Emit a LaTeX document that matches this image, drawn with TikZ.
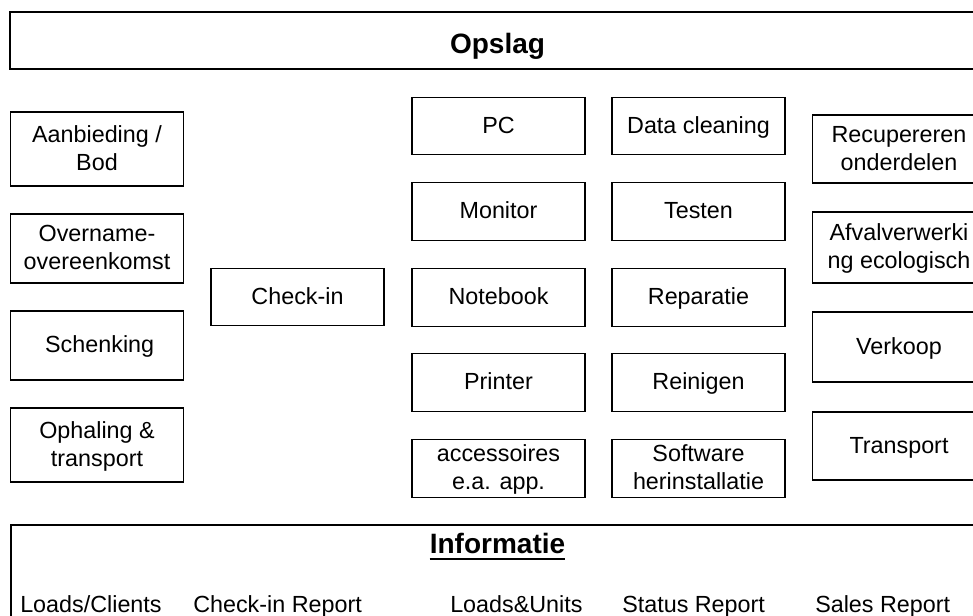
\documentclass[tikz,border=0pt]{standalone}
\usepackage{fontspec}
\setmainfont{Liberation Sans}
\begin{document}
\begin{tikzpicture}[x=0.75pt,y=-0.75pt,
  box/.style={draw=black, line width=0.85pt, inner sep=0pt, align=center,
    font=\fontsize{17.5pt}{21pt}\selectfont, minimum width=129.75pt,
    text height=13.5pt, text depth=3pt},
  twoline/.style={text height=34.5pt, text depth=3pt},
  frame/.style={draw=black, line width=0.85pt, inner sep=0pt},
  head/.style={inner sep=0pt, font=\fontsize{21pt}{25pt}\selectfont\bfseries},
  lbl/.style={inner sep=0pt, anchor=base west, font=\fontsize{17.5pt}{21pt}\selectfont},
  h58/.style={minimum height=43pt},
  h69/.style={minimum height=51.75pt},
  h74/.style={minimum height=55.5pt}]
\clip (0,0) rectangle (973,615);

% storage band
\node[frame, minimum width=731.25pt, minimum height=42.75pt] (opslag) at (497.5,40.5) {};
\node[head, anchor=base] (opslagtxt) at (497.5,53) {Opslag};

% intake column
\node[box, twoline, h74] (bod)      at (97,149)   {Aanbieding /\\Bod};
\node[box, twoline, h69] (overname) at (97,248.5) {Overname-\\overeenkomst};
\node[box, h69]          (schenk)   at (97,345.5) {\hspace*{4pt}Schenking};
\node[box, twoline, h74] (ophaal)   at (97,445)   {Ophaling \&\\transport};

\node[box, h58] (checkin)  at (297.5,297) {Check-in};

% product types
\node[box, h58] (pc)       at (498.5,126)   {PC};
\node[box, h58] (monitor)  at (498.5,211.5) {Monitor};
\node[box, h58] (notebook) at (498.5,297.5) {Notebook};
\node[box, h58] (printer)  at (498.5,382.5) {Printer};
\node[box, twoline, h58] (acc) at (498.5,468.5) {accessoires\\e.a. app.};

% processing steps
\node[box, h58] (clean)    at (698.5,126)   {Data cleaning};
\node[box, h58] (testen)   at (698.5,211.5) {Testen};
\node[box, h58] (repar)    at (698.5,297.5) {Reparatie};
\node[box, h58] (reinig)   at (698.5,382.5) {Reinigen};
\node[box, twoline, h58] (software) at (698.5,468.5) {Software\\herinstallatie};

% outflow column
\node[box, twoline, minimum height=51pt]    (recup)   at (899,149)   {Recupereren\\onderdelen};
\node[box, twoline, minimum height=53.25pt] (afval)   at (899,247.5) {Afvalverwerki\\ng ecologisch};
\node[box, minimum height=52.5pt]  (verkoop) at (899,347)   {Verkoop};
\node[box, minimum height=51pt]    (transp)  at (899,446)   {Transport};

% information band
\node[frame, minimum width=730.5pt, minimum height=86.25pt] (info) at (498,582.5) {};
\node[head, anchor=base] (infotxt) at (497.5,553) {Informatie};
\draw[line width=1.5pt] ([yshift=-4.5pt]infotxt.base west) -- ([yshift=-4.5pt]infotxt.base east);

\node[lbl] (r1) at (20,612)  {Loads/Clients};
\node[lbl] (r2) at (193,612) {Check-in Report};
\node[lbl] (r3) at (450,612) {Loads\&Units};
\node[lbl] (r4) at (622,612) {Status Report};
\node[lbl] (r5) at (815,612) {Sales Report};
\end{tikzpicture}
\end{document}
